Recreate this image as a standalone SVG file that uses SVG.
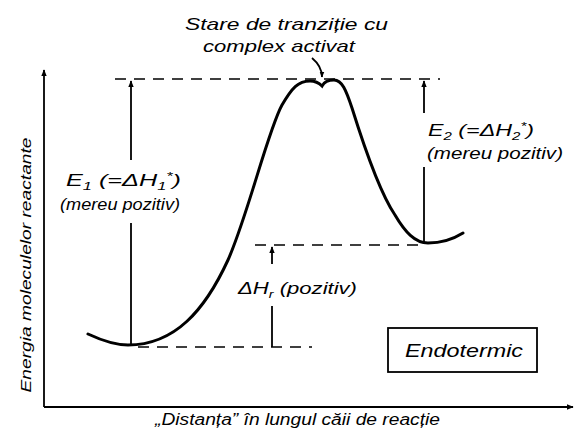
<svg xmlns="http://www.w3.org/2000/svg" width="575" height="435" viewBox="0 0 575 435">
<style>
text{font-family:"Liberation Sans","DejaVu Sans",sans-serif;font-style:italic;fill:#000}
.t{font-size:17px}
.dash{stroke:#000;stroke-width:1.6;stroke-dasharray:11 8;fill:none}
.ln{stroke:#000;stroke-width:1.8;fill:none}
.curve{stroke:#000;stroke-width:3;fill:none;stroke-linecap:round}
</style>
<defs>
<marker id="ah" viewBox="0 0 10 10" refX="9" refY="5" markerWidth="7" markerHeight="8" orient="auto" markerUnits="userSpaceOnUse">
<path d="M0,1 L10,5 L0,9 Z" fill="#000"/>
</marker>
<marker id="ahs" viewBox="0 0 10 10" refX="9" refY="5" markerWidth="6" markerHeight="6" orient="auto" markerUnits="userSpaceOnUse">
<path d="M0,1 L10,5 L0,9 Z" fill="#000"/>
</marker>
</defs>
<g id="axes">
<line class="ln" x1="44" y1="407" x2="44" y2="70" marker-end="url(#ah)"/>
<line class="ln" x1="44" y1="407" x2="573" y2="407" marker-end="url(#ah)"/>
<text transform="translate(31,265) rotate(-90)" x="0" y="0" font-size="15" text-anchor="middle" textLength="255" lengthAdjust="spacingAndGlyphs">Energia moleculelor reactante</text>
<text x="155" y="425" font-size="16" textLength="285" lengthAdjust="spacingAndGlyphs">„Distanța” în lungul căii de reacție</text>
</g>
<g id="levels">
<line class="dash" x1="115" y1="79" x2="440" y2="79"/>
<line class="dash" x1="255" y1="245" x2="423" y2="245"/>
<line class="dash" x1="138" y1="347" x2="312" y2="347"/>
</g>
<g id="curve">
<path class="curve" d="M88,334 C103,341 115,345 128,345 C175,345 205,310 228,260 C248,215 268,130 282,105 C292,88 298,81 310,81 C317,81 320,84 322,86 C324,82 328,80 334,80 C342,80 346,90 352,108 C362,140 378,190 395,215 C405,232 415,243 428,243 C443,243 455,238 463,233"/>
</g>
<g id="transition-state">
<text class="t" x="185" y="30" textLength="203" lengthAdjust="spacingAndGlyphs">Stare de tranziție cu</text>
<text class="t" x="203" y="52" textLength="152" lengthAdjust="spacingAndGlyphs">complex activat</text>
</g>
<g id="connectors">
<path class="ln" d="M312,58 C318,63 322,68 322,77" stroke-width="1.4" marker-end="url(#ahs)"/>
<line class="ln" x1="131" y1="160" x2="131" y2="81" marker-end="url(#ah)"/>
<line class="ln" x1="131" y1="223" x2="131" y2="345"/>
<line class="ln" x1="424" y1="113" x2="424" y2="81" marker-end="url(#ah)"/>
<line class="ln" x1="424" y1="167" x2="424" y2="243"/>
<line class="ln" x1="272" y1="264" x2="272" y2="247" marker-end="url(#ah)"/>
<line class="ln" x1="272" y1="306" x2="272" y2="347"/>
</g>
<g id="E1">
<text class="t" x="66" y="186" textLength="115" lengthAdjust="spacingAndGlyphs">E<tspan font-size="11" dy="4">1</tspan><tspan dy="-4"> (=ΔH</tspan><tspan font-size="11" dy="4">1</tspan><tspan font-size="11" dy="-10">*</tspan><tspan dy="6">)</tspan></text>
<text class="t" x="60" y="210" textLength="120" lengthAdjust="spacingAndGlyphs">(mereu pozitiv)</text>
</g>
<g id="E2">
<text class="t" x="428" y="136" textLength="106" lengthAdjust="spacingAndGlyphs">E<tspan font-size="11" dy="4">2</tspan><tspan dy="-4"> (=ΔH</tspan><tspan font-size="11" dy="4">2</tspan><tspan font-size="11" dy="-10">*</tspan><tspan dy="6">)</tspan></text>
<text class="t" x="427" y="159" textLength="136" lengthAdjust="spacingAndGlyphs">(mereu pozitiv)</text>
</g>
<g id="dHr">
<text class="t" x="238" y="294" textLength="119" lengthAdjust="spacingAndGlyphs">ΔH<tspan font-size="11" dy="4">r</tspan><tspan dy="-4"> (pozitiv)</tspan></text>
</g>
<g id="endotermic">
<rect x="388" y="328" width="149" height="44" fill="none" stroke="#000" stroke-width="1.8"/>
<text x="405" y="357" font-size="19" textLength="118" lengthAdjust="spacingAndGlyphs">Endotermic</text>
</g>
</svg>
